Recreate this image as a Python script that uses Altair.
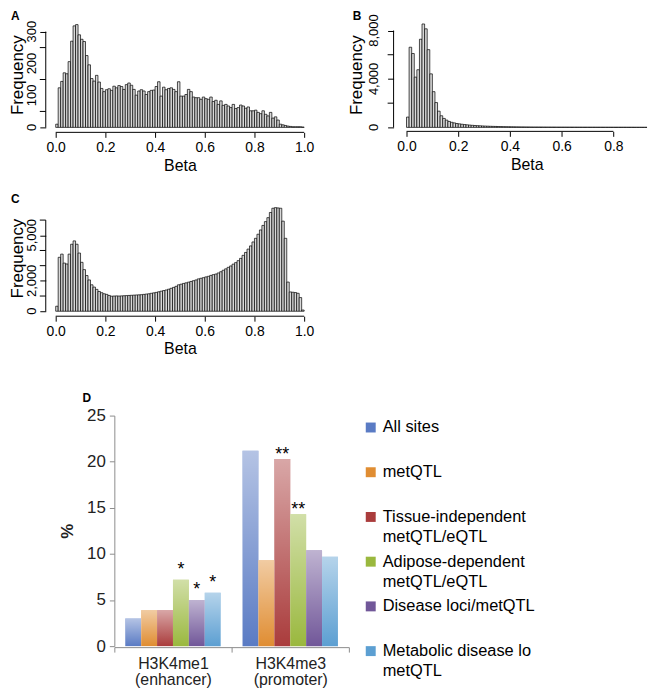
import altair as alt
import pandas as pd

FONT = "Liberation Sans"

# ---------------- data ----------------
# Panel A: frequency per 0.01-wide Beta bin
a_counts = [10, 124, 144, 171, 168, 206, 270, 318, 322, 290,
            276, 269, 225, 196, 153, 145, 163, 142, 122, 112,
            118, 121, 116, 129, 124, 131, 128, 119, 134, 139,
            132, 119, 101, 114, 118, 114, 103, 112, 116, 117,
            128, 143, 98, 126, 118, 122, 124, 119, 112, 143,
            98, 98, 103, 119, 112, 95, 93, 93, 88, 95,
            90, 88, 95, 81, 85, 72, 83, 69, 72, 67,
            62, 72, 59, 62, 70, 67, 60, 64, 52, 52,
            54, 47, 43, 52, 41, 36, 47, 29, 33, 23,
            10, 8, 6, 4, 3, 2, 2, 2, 2, 1]
a_major = [0, 100, 200, 300]
a_minor = [50, 150, 250]

# Panel B
b_counts = [850, 6620, 6100, 4150, 4760, 7280, 8540, 8140, 6420, 4420,
            2950, 2050, 1340, 960, 740, 600, 490, 420, 370, 320,
            290, 260, 235, 210, 190, 172, 156, 142, 130, 118,
            108, 99, 91, 84, 77, 71, 66, 61, 57, 53,
            49, 46, 43, 40, 38, 36, 34, 32, 30, 29,
            28, 27, 26, 25, 24, 23, 22, 21, 20, 20,
            19, 19, 18, 18, 17, 17, 16, 16, 15, 15,
            15, 14, 14, 13, 13, 13, 12, 12, 12, 11,
            11, 11, 10, 10, 10, 9, 9, 9, 8, 8,
            8, 7, 7]
b_major = [0, 4000, 8000]
b_minor = [2000, 6000]

# Panel C
c_counts = [330, 3550, 3760, 3170, 3110, 3760, 4410, 4630, 4410, 3830,
            3220, 2740, 2350, 2060, 1740, 1590, 1440, 1300, 1220, 1150,
            1110, 1040, 990, 1000, 1010, 1000, 1010, 1020, 1030, 1040,
            1050, 1060, 1070, 1080, 1090, 1110, 1130, 1150, 1180, 1210,
            1240, 1280, 1320, 1360, 1400, 1450, 1510, 1570, 1640, 1740,
            1780, 1830, 1870, 1915, 1960, 2010, 2060, 2130, 2170, 2210,
            2260, 2300, 2360, 2410, 2450, 2520, 2600, 2700, 2790, 2890,
            2980, 3100, 3200, 3330, 3480, 3680, 3870, 4090, 4300, 4560,
            4800, 5070, 5350, 5650, 5900, 6160, 6500, 6780, 6820, 6800,
            6780, 5930, 4800, 1920, 1270, 1250, 1230, 1180, 900, 80]
c_major = [0, 2000, 5000]
c_minor = [1000, 3000, 4000, 6000]

beta_ticks_full = [0, 0.2, 0.4, 0.6, 0.8, 1.0]
beta_ticks_b = [0, 0.2, 0.4, 0.6, 0.8]

# Panel D
regions = ["H3K4me1 (enhancer)", "H3K4me3 (promoter)"]
series = ["All sites", "metQTL", "Tissue-independent metQTL/eQTL",
          "Adipose-dependent metQTL/eQTL", "Disease loci/metQTL",
          "Metabolic disease loci/metQTL"]
legend_lines = ["All sites", "metQTL", "Tissue-independent\nmetQTL/eQTL",
                "Adipose-dependent\nmetQTL/eQTL", "Disease loci/metQTL",
                "Metabolic disease lo\nmetQTL"]
enhancer_pct = [3.0, 3.9, 3.9, 7.2, 5.0, 5.8]
promoter_pct = [21.2, 9.3, 20.3, 14.3, 10.4, 9.7]
enhancer_star = ["", "", "", "*", "*", "*"]
promoter_star = ["", "", "**", "**", "", ""]
series_colors = ["#5a7bc4", "#e08d32", "#aa3c3c", "#9ab83e", "#715799", "#5c9fd2"]

ONE = pd.DataFrame({"k": [0]})


def letter_mark(letter, x, y):
    return alt.Chart(ONE).mark_text(text=letter, fontSize=12, fontWeight="bold", font=FONT,
                                    align="left", baseline="middle", color="black").encode(
        x=alt.value(x), y=alt.value(y))


# ---------------- histogram panels ----------------
def hist_df(counts):
    starts = [round(i * 0.01, 2) for i in range(len(counts))]
    ends = [round(s + 0.01, 2) for s in starts]
    return pd.DataFrame({"start": starts, "end": ends, "count": counts})


def histogram(counts, xmax, ymax, width, height, x_ticks, y_major, y_minor,
              x_off, y_off, label_pad, title_pad, letter, letter_x):
    df = hist_df(counts)
    xs = alt.Scale(domain=[0, xmax], nice=False, zero=False)
    ys = alt.Scale(domain=[0, ymax], nice=False)
    all_ticks = sorted(y_major + y_minor)
    bars = alt.Chart(df).mark_bar(fill="#d9d9d9", stroke="black", strokeWidth=0.7).encode(
        x=alt.X("start:Q", scale=xs,
                axis=alt.Axis(values=x_ticks, format=".1f", title="Beta", offset=x_off,
                              domain=False, grid=False, tickSize=5, tickColor="black",
                              labelFontSize=14, labelPadding=3, labelColor="black",
                              labelOverlap=False, labelFlush=False,
                              titleFontSize=16, titleFontWeight="normal", titlePadding=3,
                              titleColor="black", labelFont=FONT, titleFont=FONT)),
        x2="end:Q",
        y=alt.Y("count:Q", scale=ys,
                axis=alt.Axis(values=y_major, labels=False, title="Frequency",
                              offset=y_off, domain=False, grid=False, tickSize=6,
                              tickColor="black", titleFontSize=17,
                              titleFontWeight="normal", titlePadding=title_pad,
                              titleColor="black", titleFont=FONT)),
        y2=alt.datum(0),
    )
    label_df = pd.DataFrame({"v": y_major, "t": [f"{v:,}" for v in y_major]})
    ylabels = alt.Chart(label_df).mark_text(
        angle=270, align="center", baseline="bottom", fontSize=13, font=FONT,
        color="black").encode(
        y=alt.Y("v:Q"), x=alt.value(-(y_off + 6 + label_pad)), text="t:N")
    minor = alt.Chart(pd.DataFrame({"m": y_minor})).mark_rule(
        color="black", strokeWidth=1).encode(
        y=alt.Y("m:Q"), x=alt.value(-y_off - 6), x2=alt.value(-y_off))
    xline = alt.Chart(ONE).mark_rule(color="black", strokeWidth=1).encode(
        x=alt.datum(x_ticks[0]), x2=alt.datum(x_ticks[-1]), y=alt.value(height + x_off))
    yline = alt.Chart(ONE).mark_rule(color="black", strokeWidth=1).encode(
        y=alt.datum(all_ticks[0]), y2=alt.datum(all_ticks[-1]), x=alt.value(-y_off))
    return alt.layer(bars, ylabels, minor, xline, yline,
                     letter_mark(letter, letter_x, -6)).properties(width=width, height=height)


chart_a = histogram(a_counts, 1.0, 330, 250, 106, beta_ticks_full, a_major, a_minor,
                    5, 10, 1, 13, "A", -45)
chart_b = histogram(b_counts, 0.93, 8700, 242, 106, beta_ticks_b, b_major, b_minor,
                    4, 13, 7, 22, "B", -54)
chart_c = histogram(c_counts, 1.0, 7000, 250, 107, beta_ticks_full, c_major, c_minor,
                    5, 10, 1, 13, "C", -45)

spacer = alt.Chart(pd.DataFrame({"v": [0]})).mark_point(opacity=0).encode(
    x=alt.X("v:Q", axis=None), y=alt.Y("v:Q", axis=None)).properties(width=10, height=10)

# ---------------- bar chart panel D ----------------
rows = []
for reg, vals, stars in [(regions[0], enhancer_pct, enhancer_star),
                         (regions[1], promoter_pct, promoter_star)]:
    for s, v, st in zip(series, vals, stars):
        rows.append({"region": reg, "series": s, "pct": v, "star": st})
df_d = pd.DataFrame(rows)

x_enc = alt.X("region:N", sort=regions,
              scale=alt.Scale(range=[59, 295], paddingInner=0, paddingOuter=0),
              axis=alt.Axis(title=None, labelExpr="split(datum.label, ' ')", labelAngle=0,
                            tickBand="extent", tickSize=5, tickColor="#8c8c8c",
                            domainColor="#8c8c8c", labelFontSize=16, labelColor="#222222",
                            labelFont=FONT, labelPadding=3, labelLineHeight=17, grid=False))
xo_enc = alt.XOffset("series:N", sort=series,
                     scale=alt.Scale(domain=series, paddingInner=0, paddingOuter=0.6875))
y_enc = alt.Y("pct:Q", scale=alt.Scale(domain=[0, 25], range=[259, 27], nice=False),
              axis=alt.Axis(values=[0, 5, 10, 15, 20, 25], title="%", offset=-59,
                            tickSize=5, tickColor="#8c8c8c", domainColor="#8c8c8c",
                            labelFontSize=17, labelColor="#222222", labelFont=FONT,
                            labelPadding=4, titleFontSize=17, titleFontWeight="bold",
                            titleFont=FONT, titleColor="#222222", titlePadding=10,
                            grid=False))
c_enc = alt.Color("series:N", sort=series,
                  scale=alt.Scale(domain=series, range=series_colors), legend=None)

shine = alt.Gradient(gradient="linear", x1=0, x2=0, y1=0, y2=1,
                     stops=[alt.GradientStop(color="rgba(255,255,255,0.55)", offset=0),
                            alt.GradientStop(color="rgba(255,255,255,0.0)", offset=1)])

bars_d = alt.Chart(df_d).mark_bar().encode(x=x_enc, xOffset=xo_enc, y=y_enc, color=c_enc)
shine_d = alt.Chart(df_d).mark_bar(fill=shine).encode(x=x_enc, xOffset=xo_enc, y=y_enc)
star1 = alt.Chart(df_d).transform_filter("datum.star === '*'").mark_text(
    fontSize=18, font=FONT, baseline="alphabetic", dy=-5, color="black").encode(
    x=x_enc, xOffset=xo_enc, y=y_enc, text="star:N")
star2 = alt.Chart(df_d).transform_filter("datum.star === '**'").mark_text(
    fontSize=18, font=FONT, baseline="alphabetic", dy=1, color="black").encode(
    x=x_enc, xOffset=xo_enc, y=y_enc, text="star:N")

df_leg = pd.DataFrame({"series": series, "label": legend_lines})
leg_y = alt.Y("series:N", sort=series, scale=alt.Scale(range=[39, 264], padding=0), axis=None)
leg_sq = alt.Chart(df_leg).mark_square(size=100, opacity=1).encode(
    x=alt.value(317), y=leg_y, color=c_enc)
leg_tx = alt.Chart(df_leg).mark_text(align="left", baseline="top", dy=-8, fontSize=16.5,
                                      font=FONT, lineBreak="\n", lineHeight=20,
                                      color="black").encode(
    x=alt.value(329), y=leg_y, text="label:N")

chart_d = alt.layer(
    alt.layer(bars_d, shine_d, star1, star2, letter_mark("D", 27, 9)),
    alt.layer(leg_sq, leg_tx),
).resolve_scale(y="independent").properties(width=295, height=260)

chart = alt.concat(chart_a, chart_b, chart_c, spacer, chart_d, columns=2,
                   spacing={"row": 78, "column": 58}, align="each", bounds="flush").properties(
    padding=0
).configure_view(stroke=None).configure_axis(grid=False)

chart.save("out.html", embed_options={"renderer": "svg", "actions": False})
